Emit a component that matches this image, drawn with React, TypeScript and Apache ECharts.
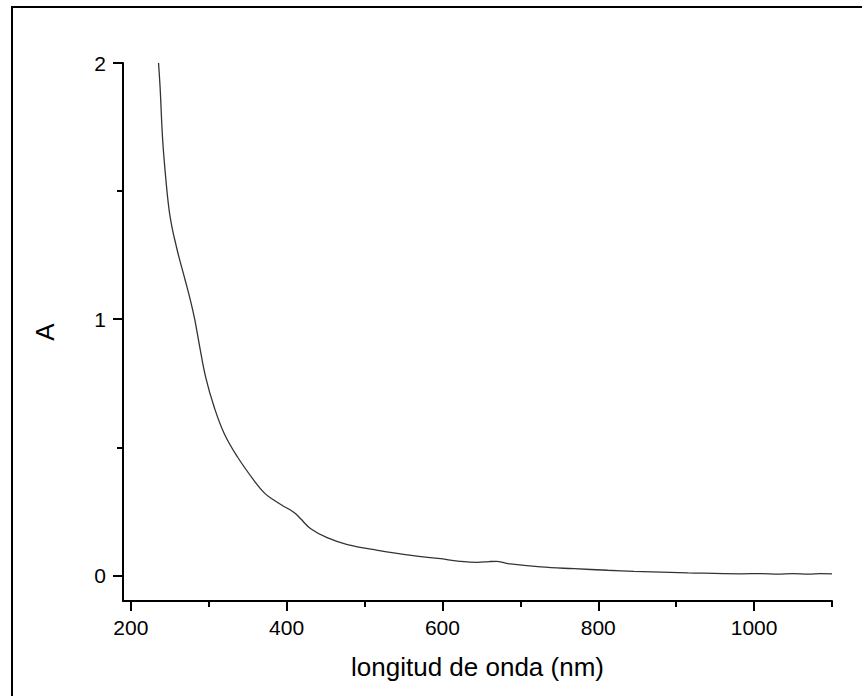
import React, { useEffect, useRef } from "react";
import * as echarts from "echarts";

const wavelength = [
  235.6, 237.7, 240.7, 244, 249, 253.5, 258, 262, 270, 276, 282, 288, 296, 307, 320, 337, 358, 372,
  384, 395, 405, 412, 418, 431, 452, 478, 517, 560, 598, 620, 645, 660, 669, 684, 726, 769, 812,
  846, 915, 983, 1010, 1030, 1050, 1070, 1085, 1100,
];
const absorbance = [
  2.0, 1.9, 1.71, 1.58, 1.43, 1.35, 1.29, 1.24, 1.15, 1.08, 1.0, 0.9, 0.775, 0.657, 0.553, 0.462,
  0.371, 0.32, 0.293, 0.272, 0.255, 0.24, 0.221, 0.182, 0.147, 0.12, 0.098, 0.078, 0.065, 0.056,
  0.051, 0.054, 0.055, 0.046, 0.033, 0.026, 0.02, 0.016, 0.01, 0.006, 0.007, 0.005, 0.007, 0.005,
  0.007, 0.006,
];
const xMajorTicks = [200, 400, 600, 800, 1000];
const xMinorTicks = [300, 500, 700, 900, 1100];
const yMajorTicks = [0, 1, 2];
const yMinorTicks = [0.5, 1.5];
const xTitle = "longitud de onda (nm)";
const yTitle = "A";

export default function App() {
  const ref = useRef<HTMLDivElement>(null);
  useEffect(() => {
    document.body.style.margin = "0";
    const chart = echarts.init(ref.current!, null, { renderer: "svg" });
    const font = "'Liberation Sans', Arial, sans-serif";
    const black = "#000";
    const labelStyle = { color: black, fontSize: 21, fontFamily: font };
    const nameStyle = { color: black, fontSize: 26, fontFamily: font };
    const plain = (v: number) => String(v);
    chart.setOption({
      animation: false,
      backgroundColor: "#fff",
      grid: { left: 123, right: 30, top: 63, bottom: 95, containLabel: false },
      xAxis: [
        {
          type: "value",
          min: 190,
          max: 1100,
          position: "bottom",
          axisLine: { show: true, onZero: false, lineStyle: { color: black, width: 2 } },
          axisTick: { show: true, customValues: xMajorTicks, length: 10, lineStyle: { color: black, width: 2 } },
          axisLabel: { show: true, customValues: xMajorTicks, margin: 16, formatter: plain, ...labelStyle },
          splitLine: { show: false },
          name: xTitle,
          nameLocation: "middle",
          nameGap: 53,
          nameTextStyle: nameStyle,
        },
        {
          type: "value",
          min: 190,
          max: 1100,
          position: "bottom",
          axisLine: { show: false, onZero: false },
          axisTick: { show: true, customValues: xMinorTicks, length: 6, lineStyle: { color: black, width: 2 } },
          axisLabel: { show: false },
          splitLine: { show: false },
        },
      ],
      yAxis: [
        {
          type: "value",
          min: -0.1,
          max: 2,
          position: "left",
          axisLine: { show: true, onZero: false, lineStyle: { color: black, width: 2 } },
          axisTick: { show: true, customValues: yMajorTicks, length: 10, lineStyle: { color: black, width: 2 } },
          axisLabel: { show: true, customValues: yMajorTicks, margin: 17, formatter: plain, ...labelStyle },
          splitLine: { show: false },
          name: yTitle,
          nameLocation: "middle",
          nameRotate: 90,
          nameGap: 65,
          nameTextStyle: nameStyle,
        },
        {
          type: "value",
          min: -0.1,
          max: 2,
          position: "left",
          axisLine: { show: false, onZero: false },
          axisTick: { show: true, customValues: yMinorTicks, length: 6, lineStyle: { color: black, width: 2 } },
          axisLabel: { show: false },
          splitLine: { show: false },
        },
      ],
      graphic: [
        {
          type: "rect",
          shape: { x: 12, y: 7, width: 900, height: 740 },
          style: { fill: "none", stroke: black, lineWidth: 2 },
          silent: true,
        },
      ],
      series: [
        {
          type: "line",
          xAxisIndex: 0,
          yAxisIndex: 0,
          data: wavelength.map((w, i) => [w, absorbance[i]]),
          showSymbol: false,
          smooth: 0.4,
          lineStyle: { color: "#333", width: 1.3 },
          clip: false,
        },
      ],
    });
    return () => chart.dispose();
  }, []);
  return <div ref={ref} style={{ width: 862, height: 696 }} />;
}
